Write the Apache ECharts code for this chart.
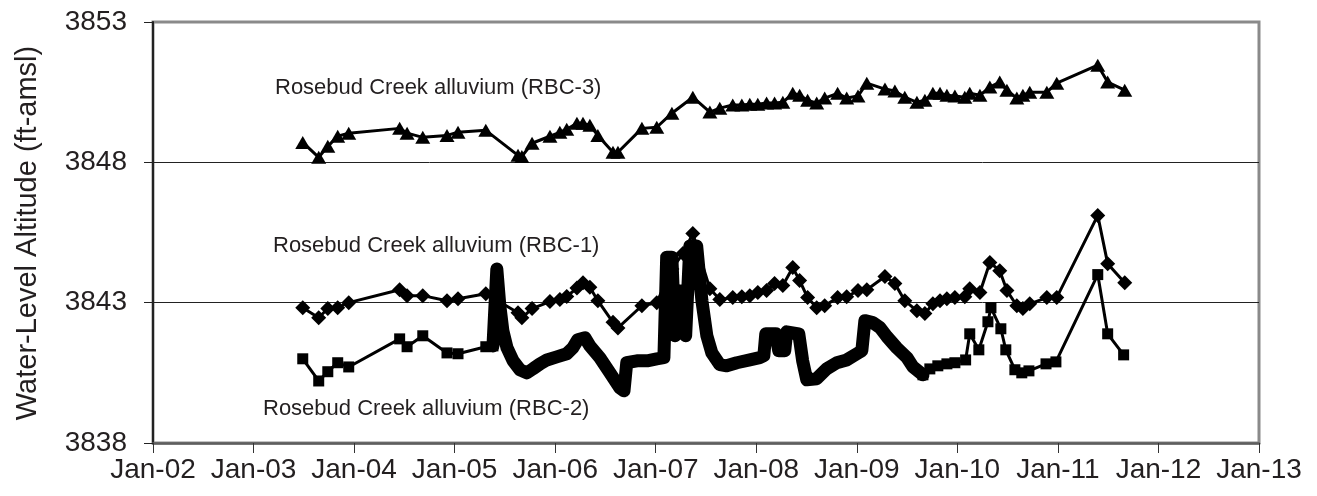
<!DOCTYPE html>
<html>
<head>
<meta charset="utf-8">
<script src="https://cdn.jsdelivr.net/npm/echarts@6/dist/echarts.min.js"></script>
<style>
  html, body { margin: 0; padding: 0; background: #ffffff; }
  #chart { width: 1317px; height: 496px; }
</style>
</head>
<body>
<div id="chart"></div>
<script>
// Tick labels
const xTickLabels = ['Jan-02', 'Jan-03', 'Jan-04', 'Jan-05', 'Jan-06', 'Jan-07',
                     'Jan-08', 'Jan-09', 'Jan-10', 'Jan-11', 'Jan-12', 'Jan-13'];
const yTicks = [3838, 3843, 3848, 3853];

// Rosebud Creek alluvium (RBC-3) water levels, ft-amsl
const rbc3Dates = ['2003-06-29','2003-08-26','2003-09-28','2003-11-03','2003-12-13',
  '2004-06-15','2004-07-12','2004-09-07','2004-12-04',
  '2005-01-13','2005-04-24','2005-08-19','2005-09-02','2005-10-09','2005-12-13',
  '2006-01-18','2006-02-12','2006-03-21','2006-04-12','2006-05-07','2006-06-05','2006-07-30','2006-08-17','2006-11-12',
  '2007-01-05','2007-03-01','2007-05-16','2007-07-17','2007-08-22','2007-10-08','2007-11-10','2007-12-09',
  '2008-01-07','2008-02-08','2008-03-08','2008-04-07','2008-05-13','2008-06-07','2008-07-06','2008-08-08','2008-09-06','2008-10-23','2008-11-25',
  '2009-01-05','2009-02-06','2009-04-13','2009-05-19','2009-06-24','2009-08-07','2009-09-05','2009-10-04','2009-10-30','2009-11-24','2009-12-23',
  '2010-01-28','2010-02-15','2010-03-24','2010-04-29','2010-06-04','2010-06-30','2010-08-05','2010-08-27','2010-09-21','2010-11-22','2010-12-28',
  '2011-05-26','2011-07-01','2011-09-01'];
const rbc3Values = [3848.71, 3848.18, 3848.57, 3848.93, 3849.04,
  3849.21, 3849.04, 3848.89, 3848.96,
  3849.07, 3849.14, 3848.25, 3848.21, 3848.68, 3848.93,
  3849.07, 3849.18, 3849.39, 3849.39, 3849.32, 3848.96, 3848.36, 3848.36, 3849.21,
  3849.25, 3849.75, 3850.32, 3849.79, 3849.93, 3850.04, 3850.04, 3850.07,
  3850.07, 3850.11, 3850.11, 3850.14, 3850.46, 3850.39, 3850.21, 3850.11, 3850.29, 3850.46, 3850.29,
  3850.36, 3850.82, 3850.61, 3850.54, 3850.32, 3850.14, 3850.21, 3850.46, 3850.46, 3850.39, 3850.36,
  3850.32, 3850.46, 3850.39, 3850.68, 3850.86, 3850.57, 3850.29, 3850.39, 3850.50, 3850.50, 3850.82,
  3851.46, 3850.86, 3850.57];

// Rosebud Creek alluvium (RBC-1)
const rbc1Dates = ['2003-06-29','2003-08-26','2003-09-28','2003-11-03','2003-12-13',
  '2004-06-15','2004-07-12','2004-09-07','2004-12-04',
  '2005-01-13','2005-04-24','2005-08-19','2005-09-02','2005-10-09','2005-12-13',
  '2006-01-18','2006-02-12','2006-03-21','2006-04-12','2006-05-07','2006-06-05','2006-07-30','2006-08-17','2006-11-12',
  '2007-01-05','2007-03-01','2007-04-10','2007-05-16','2007-07-17','2007-08-22','2007-10-08','2007-11-10','2007-12-09',
  '2008-01-07','2008-02-08','2008-03-08','2008-04-07','2008-05-13','2008-06-07','2008-07-06','2008-08-08','2008-09-06','2008-10-23','2008-11-25',
  '2009-01-05','2009-02-06','2009-04-13','2009-05-19','2009-06-24','2009-08-07','2009-09-05','2009-10-04','2009-10-30','2009-11-24','2009-12-23',
  '2010-01-28','2010-02-15','2010-03-24','2010-04-29','2010-06-04','2010-06-30','2010-08-05','2010-08-27','2010-09-21','2010-11-22','2010-12-28',
  '2011-05-26','2011-07-01','2011-09-01'];
const rbc1Values = [3842.82, 3842.46, 3842.79, 3842.82, 3843.00,
  3843.46, 3843.25, 3843.25, 3843.07,
  3843.14, 3843.32, 3842.64, 3842.46, 3842.79, 3843.04,
  3843.11, 3843.22, 3843.52, 3843.71, 3843.55, 3843.07, 3842.30, 3842.10, 3842.89,
  3843.00, 3844.20, 3844.75, 3845.46, 3843.50, 3843.11, 3843.18, 3843.21, 3843.25,
  3843.36, 3843.43, 3843.68, 3843.61, 3844.25, 3843.79, 3843.18, 3842.82, 3842.89, 3843.18, 3843.21,
  3843.43, 3843.46, 3843.93, 3843.68, 3843.07, 3842.71, 3842.61, 3842.96, 3843.07, 3843.14, 3843.18,
  3843.21, 3843.50, 3843.36, 3844.43, 3844.14, 3843.43, 3842.89, 3842.79, 3842.96, 3843.18, 3843.18,
  3846.11, 3844.39, 3843.71];

// Rosebud Creek alluvium (RBC-2), manual measurements before the recorder period
const rbc2EarlyDates = ['2003-06-29','2003-08-26','2003-09-28','2003-11-03','2003-12-13',
  '2004-06-15','2004-07-12','2004-09-07','2004-12-04','2005-01-13','2005-04-24'];
const rbc2EarlyValues = [3841.00, 3840.21, 3840.54, 3840.86, 3840.71,
  3841.71, 3841.43, 3841.82, 3841.21, 3841.18, 3841.43];

// RBC-2 continuous recorder record
const rbc2LoggerDates = ['2005-05-20','2005-05-27','2005-06-03','2005-06-14','2005-06-25','2005-07-10',
  '2005-08-01','2005-08-26','2005-09-20','2005-10-12','2005-11-07','2005-12-02',
  '2006-01-07','2006-02-12','2006-03-06','2006-03-24','2006-04-19','2006-05-07','2006-06-12',
  '2006-07-19','2006-08-24','2006-09-08','2006-09-18','2006-10-25','2006-12-01',
  '2007-01-05','2007-01-31','2007-02-10','2007-03-01','2007-03-12','2007-03-22','2007-04-13',
  '2007-04-20','2007-05-05','2007-05-30','2007-06-18','2007-07-06','2007-07-24','2007-08-22',
  '2007-09-16','2007-10-23','2007-12-09',
  '2008-01-14','2008-01-29','2008-02-05','2008-03-12','2008-03-23','2008-04-14','2008-04-21',
  '2008-06-04','2008-06-18','2008-07-03','2008-08-08','2008-09-13','2008-10-20','2008-11-25',
  '2009-01-01','2009-01-19','2009-01-30','2009-02-28','2009-03-26','2009-04-20','2009-05-26',
  '2009-07-02','2009-07-24','2009-08-29'];
const rbc2LoggerValues = [3841.46, 3841.46, 3844.20, 3842.89, 3842.00, 3841.39,
  3840.93, 3840.61, 3840.50, 3840.64, 3840.82, 3840.96,
  3841.07, 3841.18, 3841.39, 3841.68, 3841.75, 3841.46, 3841.04,
  3840.50, 3839.96, 3839.86, 3840.86, 3840.93, 3840.93,
  3841.00, 3841.04, 3844.62, 3844.62, 3841.82, 3843.40, 3843.43,
  3841.82, 3845.02, 3845.02, 3843.07, 3841.82, 3841.21, 3840.79,
  3840.75, 3840.86, 3840.96,
  3841.04, 3841.11, 3841.89, 3841.89, 3841.29, 3841.29, 3841.96,
  3841.89, 3840.93, 3840.25, 3840.29, 3840.64, 3840.86, 3840.96,
  3841.18, 3841.29, 3842.36, 3842.29, 3842.11, 3841.79, 3841.39,
  3841.04, 3840.71, 3840.43];

// RBC-2 manual measurements after the recorder period
const rbc2LateDates = ['2009-09-23','2009-10-22','2009-11-24','2009-12-23',
  '2010-01-31','2010-02-15','2010-03-20','2010-04-22','2010-05-03','2010-06-08','2010-06-26',
  '2010-07-29','2010-08-23','2010-09-18','2010-11-19','2010-12-25',
  '2011-05-26','2011-07-01','2011-08-28'];
const rbc2LateValues = [3840.64, 3840.75, 3840.82, 3840.86,
  3840.96, 3841.89, 3841.32, 3842.32, 3842.82, 3842.07, 3841.32,
  3840.61, 3840.50, 3840.57, 3840.82, 3840.89,
  3844.00, 3841.89, 3841.14];

// ---- chart construction ----
const YEAR_MS = 365.25 * 24 * 3600 * 1000;
const X_MIN = 32 * YEAR_MS;   // 1 Jan 2002
const X_MAX = 43 * YEAR_MS;   // 1 Jan 2013
const toPairs = (dates, values) => dates.map((d, i) => [Date.parse(d), values[i]]);

const rbc3 = toPairs(rbc3Dates, rbc3Values);
const rbc1 = toPairs(rbc1Dates, rbc1Values);
const logger = toPairs(rbc2LoggerDates, rbc2LoggerValues);
const rbc2Early = toPairs(rbc2EarlyDates, rbc2EarlyValues).concat([logger[0]]);
const rbc2Late = [logger[logger.length - 1]].concat(toPairs(rbc2LateDates, rbc2LateValues));

const FONT = '"Liberation Sans", Arial, sans-serif';
const TEXT = '#231f20';

const manualStyle = (symbol, size) => ({
  type: 'line',
  symbol: symbol,
  symbolSize: size,
  showAllSymbol: true,
  itemStyle: { color: '#000' },
  lineStyle: { color: '#000', width: 3 },
  emphasis: { disabled: true },
  z: 3
});

const chart = echarts.init(document.getElementById('chart'), null, { renderer: 'canvas' });
chart.setOption({
  animation: false,
  backgroundColor: '#ffffff',
  grid: {
    left: 153, right: 58, top: 22, bottom: 53,
    show: true, borderColor: '#8a8a8a', borderWidth: 3, backgroundColor: 'transparent'
  },
  xAxis: {
    type: 'value',
    min: X_MIN, max: X_MAX, interval: YEAR_MS,
    axisLine: { show: true, lineStyle: { color: '#5e5e5e', width: 2.5 } },
    axisTick: { show: true, inside: false, length: 10, lineStyle: { color: '#333', width: 1 } },
    splitLine: { show: false },
    axisLabel: {
      fontFamily: FONT, fontSize: 28, color: TEXT, margin: 13,
      showMinLabel: true, showMaxLabel: true,
      formatter: v => xTickLabels[Math.round((v - X_MIN) / YEAR_MS)] || ''
    }
  },
  yAxis: {
    type: 'value',
    min: yTicks[0], max: yTicks[yTicks.length - 1], interval: yTicks[1] - yTicks[0],
    axisLine: { show: true, lineStyle: { color: '#222', width: 2 } },
    axisTick: { show: true, inside: false, length: 9, lineStyle: { color: '#222', width: 1 } },
    splitLine: { show: true, showMinLine: false, showMaxLine: false, lineStyle: { color: '#222', width: 1 } },
    axisLabel: { fontFamily: FONT, fontSize: 28, color: TEXT, margin: 26, formatter: v => String(v) }
  },
  graphic: [
    {
      type: 'text', x: 28, y: 233, rotation: Math.PI / 2,
      style: { text: 'Water-Level Altitude (ft-amsl)', font: '29px ' + FONT, fill: TEXT,
               textAlign: 'center', textVerticalAlign: 'middle' }
    },
    {
      type: 'text', x: 275, y: 88,
      style: { text: 'Rosebud Creek alluvium (RBC-3)', font: '22px ' + FONT, fill: TEXT,
               textAlign: 'left', textVerticalAlign: 'middle' }
    },
    {
      type: 'text', x: 273, y: 246,
      style: { text: 'Rosebud Creek alluvium (RBC-1)', font: '22px ' + FONT, fill: TEXT,
               textAlign: 'left', textVerticalAlign: 'middle' }
    },
    {
      type: 'text', x: 263, y: 409,
      style: { text: 'Rosebud Creek alluvium (RBC-2)', font: '22px ' + FONT, fill: TEXT,
               textAlign: 'left', textVerticalAlign: 'middle' }
    }
  ],
  series: [
    {
      name: 'RBC-2 recorder',
      type: 'line',
      data: logger,
      showSymbol: false,
      lineStyle: { color: '#000', width: 13, join: 'round', cap: 'round' },
      emphasis: { disabled: true },
      z: 2
    },
    Object.assign(manualStyle('rect', 11), { name: 'RBC-2', data: rbc2Early }),
    Object.assign(manualStyle('rect', 11), { name: 'RBC-2 late', data: rbc2Late }),
    Object.assign(manualStyle('diamond', [15, 15]), { name: 'RBC-1', data: rbc1 }),
    Object.assign(manualStyle('triangle', [15, 13]), { name: 'RBC-3', data: rbc3 })
  ]
});
</script>
</body>
</html>
